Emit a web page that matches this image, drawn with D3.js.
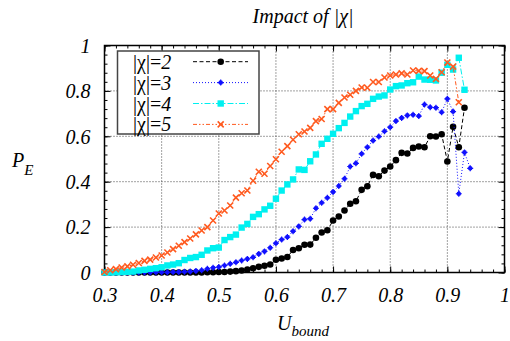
<!DOCTYPE html>
<html>
<head>
<meta charset="utf-8">
<script src="https://cdn.jsdelivr.net/npm/d3@7"></script>
<style>
  html, body { margin: 0; padding: 0; background: #fff; }
  svg { display: block; }
</style>
</head>
<body>
<svg id="chart" width="510" height="341"></svg>
<script>
// ---------- data ----------
const uBound = [0.30,0.31,0.32,0.33,0.34,0.35,0.36,0.37,0.38,0.39,
                0.40,0.41,0.42,0.43,0.44,0.45,0.46,0.47,0.48,0.49,
                0.50,0.51,0.52,0.53,0.54,0.55,0.56,0.57,0.58,0.59,
                0.60,0.61,0.62,0.63,0.64,0.65,0.66,0.67,0.68,0.69,
                0.70,0.71,0.72,0.73,0.74,0.75,0.76,0.77,0.78,0.79,
                0.80,0.81,0.82,0.83,0.84,0.85,0.86,0.87,0.88,0.89,
                0.90,0.91,0.92,0.93,0.94];

const chi2 = [0,0,0,0,0,0,0,0,0,0,
              0,0,0,0,0,0,0,0,0.001,0.001,
              0.002,0.002,0.004,0.006,0.009,0.013,0.019,0.025,0.030,0.035,
              0.056,0.062,0.068,0.099,0.107,0.122,0.123,0.153,0.176,0.186,
              0.229,0.247,0.273,0.303,0.314,0.364,0.380,0.430,0.424,0.449,
              0.467,0.495,0.527,0.524,0.549,0.555,0.552,0.600,0.599,0.609,
              0.489,0.642,0.552,0.726];

const chi3 = [0,0,0,0,0,0,0,0,0,0.001,
              0.001,0.001,0.002,0.002,0.003,0.004,0.007,0.010,0.016,0.021,
              0.024,0.031,0.038,0.045,0.053,0.060,0.067,0.082,0.093,0.109,
              0.129,0.145,0.156,0.182,0.203,0.233,0.237,0.283,0.307,0.329,
              0.355,0.381,0.413,0.467,0.481,0.523,0.552,0.581,0.599,0.622,
              0.640,0.667,0.681,0.692,0.695,0.689,0.740,0.728,0.726,0.706,
              0.765,0.709,0.347,0.529,0.459];

const chi4 = [0,0,0.001,0.002,0.003,0.004,0.009,0.012,0.016,0.019,
              0.023,0.031,0.035,0.041,0.055,0.064,0.068,0.078,0.097,0.107,
              0.110,0.143,0.156,0.167,0.198,0.214,0.245,0.257,0.278,0.294,
              0.325,0.361,0.388,0.410,0.454,0.452,0.490,0.520,0.567,0.589,
              0.611,0.636,0.659,0.687,0.711,0.733,0.743,0.765,0.775,0.780,
              0.806,0.821,0.824,0.834,0.838,0.863,0.850,0.849,0.846,0.880,
              0.915,0.894,0.946,0.805];

const chi5 = [0.002,0.010,0.015,0.022,0.027,0.034,0.042,0.051,0.057,0.066,
              0.075,0.088,0.103,0.118,0.134,0.150,0.168,0.185,0.200,0.229,
              0.260,0.273,0.295,0.330,0.349,0.361,0.404,0.444,0.435,0.469,
              0.499,0.532,0.557,0.585,0.609,0.621,0.637,0.667,0.676,0.720,
              0.720,0.747,0.771,0.783,0.800,0.815,0.814,0.839,0.839,0.859,
              0.868,0.872,0.877,0.872,0.890,0.888,0.887,0.868,0.853,0.882,
              0.925,0.907,0.750];

const seriesNames = ["2", "3", "4", "5"];
const xTicks = [0.3, 0.4, 0.5, 0.6, 0.7, 0.8, 0.9, 1.0];
const yTicks = [0, 0.2, 0.4, 0.6, 0.8, 1.0];
const titleText = "Impact of |χ|";

// ---------- styles ----------
const styles = [
  { color: "#000000", dash: "4,2.5", marker: "circle" },
  { color: "#1010ff", dash: "1,2",   marker: "dot" },
  { color: "#00f0f0", dash: "6,2,1.5,2", marker: "square" },
  { color: "#ff5a1f", dash: "4,2,1.5,2,1.5,2", marker: "cross" }
];
const allSeries = [chi2, chi3, chi4, chi5];
const SERIF = '"Liberation Serif", "Times New Roman", serif';

const svg = d3.select("#chart");
const L = 104.5, R = 504.5, T = 45.5, B = 272.5;
const x = d3.scaleLinear().domain([0.3, 1.0]).range([L, R]);
const y = d3.scaleLinear().domain([0, 1]).range([B, T]);

// grid
const grid = svg.append("g");
grid.selectAll("line.gx").data(xTicks.slice(1, -1)).enter().append("line")
  .attr("x1", d => x(d)).attr("x2", d => x(d)).attr("y1", T).attr("y2", B)
  .attr("stroke", "#444").attr("stroke-width", 1).attr("stroke-dasharray", "1,2");
grid.selectAll("line.gy").data(yTicks.slice(1, -1)).enter().append("line")
  .attr("x1", L).attr("x2", R).attr("y1", d => y(d)).attr("y2", d => y(d))
  .attr("stroke", "#444").attr("stroke-width", 1).attr("stroke-dasharray", "1,2");

// axes (ticks inside, mirrored)
const fmt = d => (d === 0 ? "0" : d === 1 ? "1" : d3.format(".1f")(d));
const xMinor = d3.range(0.3, 1.0001, 0.02).map(v => +v.toFixed(2));
const yMinor = d3.range(0, 1.0001, 0.04).map(v => +v.toFixed(2));

function styleAxis(g) {
  g.select(".domain").remove();
  g.selectAll(".tick line").attr("stroke", "#000").attr("stroke-width", 1);
}
svg.append("g").attr("transform", `translate(0,${B})`)
  .call(d3.axisBottom(x).tickValues(xMinor).tickSize(-3).tickFormat(""))
  .call(styleAxis);
svg.append("g").attr("transform", `translate(0,${T})`)
  .call(d3.axisTop(x).tickValues(xMinor).tickSize(-3).tickFormat(""))
  .call(styleAxis);
svg.append("g").attr("transform", `translate(${L},0)`)
  .call(d3.axisLeft(y).tickValues(yMinor).tickSize(-3).tickFormat(""))
  .call(styleAxis);
svg.append("g").attr("transform", `translate(${R},0)`)
  .call(d3.axisRight(y).tickValues(yMinor).tickSize(-3).tickFormat(""))
  .call(styleAxis);

function styleLabels(sel) {
  sel.style("font-family", SERIF).style("font-style", "italic")
    .style("font-size", "20px").attr("fill", "#000");
}
const xAxisG = svg.append("g").attr("transform", `translate(0,${B})`)
  .call(d3.axisBottom(x).tickValues(xTicks).tickSize(-6).tickFormat(fmt))
  .call(styleAxis);
xAxisG.selectAll(".tick text").attr("y", 29).attr("dy", 0).call(styleLabels);
svg.append("g").attr("transform", `translate(0,${T})`)
  .call(d3.axisTop(x).tickValues(xTicks).tickSize(-6).tickFormat(""))
  .call(styleAxis);
const yAxisG = svg.append("g").attr("transform", `translate(${L},0)`)
  .call(d3.axisLeft(y).tickValues(yTicks).tickSize(-6).tickFormat(fmt))
  .call(styleAxis);
yAxisG.selectAll(".tick text").attr("x", -14).attr("dy", "0.34em").call(styleLabels);
svg.append("g").attr("transform", `translate(${R},0)`)
  .call(d3.axisRight(y).tickValues(yTicks).tickSize(-6).tickFormat(""))
  .call(styleAxis);

// frame
svg.append("rect").attr("x", L).attr("y", T).attr("width", R - L).attr("height", B - T)
  .attr("fill", "none").attr("stroke", "#000").attr("stroke-width", 1.5);

// markers
function drawMarker(g, type, color, cx, cy) {
  if (type === "circle") {
    g.append("circle").attr("cx", cx).attr("cy", cy).attr("r", 3.3).attr("fill", color);
  } else if (type === "dot") {
    g.append("circle").attr("cx", cx).attr("cy", cy).attr("r", 2.3).attr("fill", color);
    g.append("path").attr("d", `M${cx-3},${cy}H${cx+3}M${cx},${cy-3}V${cy+3}`)
      .attr("stroke", color).attr("stroke-width", 1.2);
  } else if (type === "square") {
    g.append("rect").attr("x", cx - 3.2).attr("y", cy - 3.2).attr("width", 6.4).attr("height", 6.4).attr("fill", color);
  } else {
    const s = 3;
    g.append("path").attr("d", `M${cx-s},${cy-s}L${cx+s},${cy+s}M${cx-s},${cy+s}L${cx+s},${cy-s}`)
      .attr("stroke", color).attr("stroke-width", 1.6).attr("fill", "none");
  }
}

// series
const plot = svg.append("g");
allSeries.forEach((vals, si) => {
  const st = styles[si];
  const pts = vals.map((v, i) => [uBound[i], v]);
  const line = d3.line().x(d => x(d[0])).y(d => y(d[1]));
  const g = plot.append("g");
  g.append("path").attr("d", line(pts)).attr("fill", "none")
    .attr("stroke", st.color).attr("stroke-width", 1).attr("stroke-dasharray", st.dash);
  pts.forEach(p => drawMarker(g, st.marker, st.color, x(p[0]), y(p[1])));
});

// legend
const lg = svg.append("g");
lg.append("rect").attr("x", 117.5).attr("y", 51).attr("width", 141.5).attr("height", 83)
  .attr("fill", "#fff").attr("stroke", "#444").attr("stroke-width", 1.5);
seriesNames.forEach((name, i) => {
  const st = styles[i];
  const cy = 61.7 + i * 20.9;
  const t = lg.append("text").attr("x", 133).attr("y", cy + 7)
    .style("font-family", SERIF).style("font-size", "20px").attr("fill", "#000");
  t.append("tspan").text("|χ|=");
  t.append("tspan").style("font-style", "italic").text(name);
  lg.append("line").attr("x1", 193).attr("x2", 248).attr("y1", cy).attr("y2", cy)
    .attr("stroke", st.color).attr("stroke-width", 1).attr("stroke-dasharray", st.dash);
  drawMarker(lg, st.marker, st.color, 220.7, cy);
});

// title
svg.append("text").attr("x", 303).attr("y", 22.5).attr("text-anchor", "middle")
  .style("font-family", SERIF).style("font-style", "italic").style("font-size", "20px")
  .attr("fill", "#000").text(titleText);

// axis labels
const xl = svg.append("text").attr("x", 277).attr("y", 330)
  .style("font-family", SERIF).style("font-style", "italic").style("font-size", "20px").attr("fill", "#000");
xl.append("tspan").text("U");
xl.append("tspan").style("font-size", "15px").attr("dy", 6).text("bound");

const yl = svg.append("text").attr("x", 12).attr("y", 167)
  .style("font-family", SERIF).style("font-style", "italic").style("font-size", "20px").attr("fill", "#000");
yl.append("tspan").text("P");
yl.append("tspan").style("font-size", "15px").attr("dy", 8).text("E");
</script>
</body>
</html>
